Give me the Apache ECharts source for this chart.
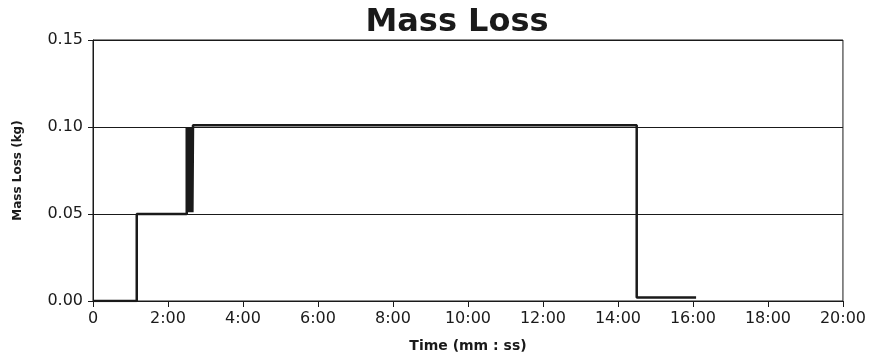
<!DOCTYPE html>
<html>
<head>
<meta charset="utf-8">
<script src="https://cdn.jsdelivr.net/npm/echarts@6/dist/echarts.min.js"></script>
<style>
  html, body { margin: 0; padding: 0; background: #fff; }
  #chart { width: 869px; height: 358px; }
</style>
</head>
<body>
<div id="chart"></div>
<script>
// ── Data (time in seconds, mass loss in kg) ─────────────
const timeSec  = [0, 70, 150, 151, 152, 153, 154, 155, 156, 157, 158, 159, 160, 870, 965];
const massKg   = [0.000, 0.050, 0.100, 0.051, 0.100, 0.051, 0.100, 0.051, 0.100, 0.051, 0.100, 0.051, 0.101, 0.002, 0.002];
const yTicks   = [0.00, 0.05, 0.10, 0.15];
const xTickSec = [0, 120, 240, 360, 480, 600, 720, 840, 960, 1080, 1200];

// ── Helpers ─────────────────────────────────────────────
function fmtMmSs(sec) {
  if (sec === 0) return '0';
  const m = Math.floor(sec / 60);
  const s = String(Math.round(sec % 60)).padStart(2, '0');
  return m + ':' + s;
}

const INK = '#1a1a1a';
const FONT = "'DejaVu Sans', sans-serif";

const chart = echarts.init(document.getElementById('chart'));

chart.setOption({
  backgroundColor: '#fff',
  animation: false,

  title: {
    text: 'Mass Loss',
    left: 452,
    top: 2,
    textAlign: 'center',
    textStyle: { fontFamily: FONT, fontWeight: 'bold', fontSize: 32, color: INK },
  },

  grid: {
    left: 93, right: 20, top: 40, bottom: 57,
    show: true, borderColor: INK, borderWidth: 1,
  },

  xAxis: {
    type: 'value',
    min: xTickSec[0],
    max: xTickSec[xTickSec.length - 1],
    interval: 120,
    name: 'Time (mm : ss)',
    nameLocation: 'middle',
    nameGap: 38,
    nameTextStyle: { fontFamily: FONT, fontWeight: 'bold', fontSize: 14, color: INK },
    axisLine:  { lineStyle: { color: INK, width: 1 } },
    axisTick:  { show: true, length: 6, lineStyle: { color: INK } },
    splitLine: { show: false },
    axisLabel: {
      fontFamily: FONT, fontSize: 16, color: INK, margin: 10,
      formatter: v => fmtMmSs(v),
    },
  },

  yAxis: {
    type: 'value',
    min: yTicks[0],
    max: yTicks[yTicks.length - 1],
    interval: 0.05,
    name: 'Mass Loss (kg)',
    nameLocation: 'middle',
    nameGap: 69,
    nameTextStyle: { fontFamily: FONT, fontWeight: 'bold', fontSize: 12, color: INK },
    axisLine:  { show: true, lineStyle: { color: INK, width: 1 } },
    axisTick:  { show: true, length: 5, lineStyle: { color: INK } },
    splitLine: { show: true, lineStyle: { color: INK, width: 1 } },
    axisLabel: {
      fontFamily: FONT, fontSize: 16, color: INK, margin: 10,
      formatter: v => v.toFixed(2),
    },
  },

  series: [{
    type: 'line',
    step: 'end',
    data: timeSec.map((t, i) => [t, massKg[i]]),
    symbol: 'none',
    lineStyle: { color: INK, width: 2.5 },
  }],
});
</script>
</body>
</html>
